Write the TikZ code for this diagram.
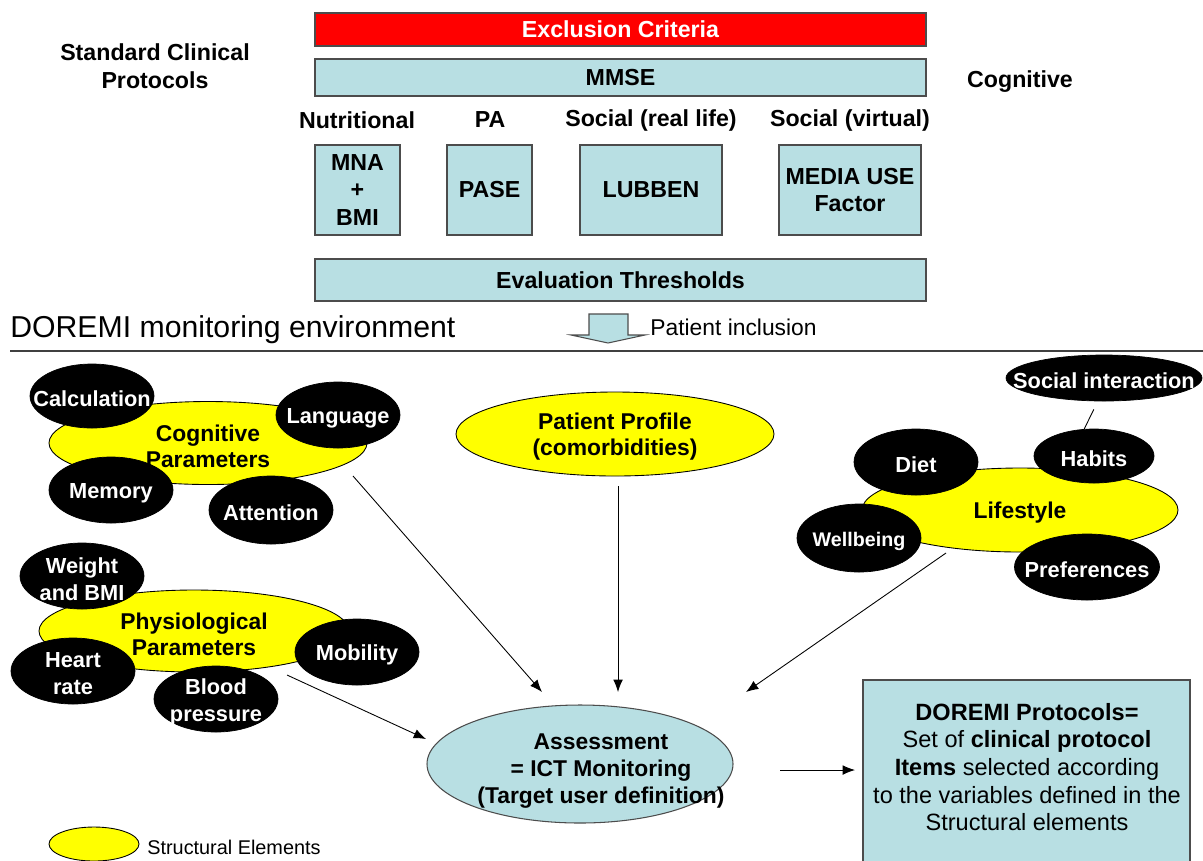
\documentclass[tikz,border=0pt]{standalone}
\usepackage{fontspec}
\setmainfont{Liberation Sans}
\usetikzlibrary{shapes.geometric,arrows.meta}
\definecolor{boxblue}{RGB}{184,223,227}
\definecolor{elyellow}{RGB}{255,255,0}

\begin{document}
\begin{tikzpicture}[x=0.02cm,y=-0.02cm,
  wh/.style 2 args={minimum width=#1*0.02cm,minimum height=#2*0.02cm},
  hdr/.style={font=\fontsize{13.2}{15.7}\selectfont\bfseries,align=center},
  bluebox/.style={draw=black!70,fill=boxblue,line width=0.6pt,inner sep=0pt,hdr},
  struct/.style={ellipse,draw=black,fill=elyellow,line width=0.5pt,inner sep=0pt},
  structtxt/.style={font=\fontsize{13}{14.8}\selectfont\bfseries,align=center,yshift=-0.06cm},
  blob/.style={ellipse,draw=black,fill=black,inner sep=0pt},
  blobtxt/.style={text=white,font=\fontsize{12.4}{15.3}\selectfont\bfseries,align=center,yshift=-0.06cm},
  arr/.style={-{Latex[length=7pt,width=5.5pt]},line width=0.5pt}]

\useasboundingbox (0,0) rectangle (1203,860);

% standard clinical protocols
\node[hdr] (std) at (155,66) {Standard Clinical\\Protocols};
\node[hdr] (cogn) at (1020,82) {Cognitive};

\node[bluebox,wh={611}{33},fill=red,text=white] (excl) at (620.5,29.5) {Exclusion Criteria};
\node[bluebox,wh={611}{37}] (mmse) at (620.5,77.5) {MMSE};

\node[hdr] (nutr) at (357,120) {Nutritional};
\node[hdr] (pa) at (490,120) {PA};
\node[hdr] (socreal) at (651,120) {Social (real life)};
\node[hdr] (socvirt) at (850,120) {Social (virtual)};

\node[bluebox,wh={85}{90}] (mna) at (357.5,190) {MNA\\+\\BMI};
\node[bluebox,wh={85}{90}] (pase) at (489.5,190) {PASE};
\node[bluebox,wh={142}{90}] (lubben) at (651,190) {LUBBEN};
\node[bluebox,wh={142}{90}] (media) at (850,190) {MEDIA USE\\Factor};

\node[bluebox,wh={611}{42}] (thresh) at (620.5,280) {Evaluation Thresholds};

% patient inclusion
\draw[draw=black!70,fill=boxblue,line width=0.6pt]
  (589,314) -- (628,314) -- (628,335) -- (645,335) -- (608,343)
  -- (571,335) -- (589,335) -- cycle;
\node[anchor=west,font=\fontsize{13}{15}\selectfont,inner sep=0pt] (incl) at (650,327) {Patient inclusion};

\node[anchor=west,font=\fontsize{17.2}{20}\selectfont,inner sep=0pt] (env) at (10,330) {DOREMI monitoring environment};
\draw[black!75,line width=1.1pt] (10,351) -- (1203,351);

% structural elements
\node[struct,wh={318}{83},label={[structtxt]center:Cognitive\\Parameters}] (cogpar) at (208,443) {};
\node[struct,wh={310}{82},label={[structtxt]center:Physiological\\Parameters}] (physpar) at (194,631) {};
\node[struct,wh={318}{84},label={[structtxt]center:Patient Profile\\(comorbidities)}] (profile) at (615,434) {};
\node[struct,wh={316}{84},label={[structtxt]center:Lifestyle}] (life) at (1020,510) {};

\node[blob,wh={124}{64},label={[blobtxt]center:Calculation}] (calc) at (92,396) {};
\node[blob,wh={124}{66},label={[blobtxt]center:Language}] (lang) at (338,415) {};
\node[blob,wh={124}{66},label={[blobtxt]center:Memory}] (memory) at (111,490) {};
\node[blob,wh={124}{68},label={[blobtxt]center:Attention}] (attn) at (271,510) {};

\node[blob,wh={124}{66},label={[blobtxt]center:Weight\\and BMI}] (weight) at (82,576) {};
\node[blob,wh={124}{66},label={[blobtxt]center:Heart\\rate}] (heart) at (73,671) {};
\node[blob,wh={124}{66},label={[blobtxt]center:Mobility}] (mobil) at (357,652) {};
\node[blob,wh={124}{66},label={[blobtxt]center:Blood\\pressure}] (blood) at (216,699) {};

\node[blob,wh={196}{46},label={[blobtxt]center:Social interaction}] (socint) at (1104,378) {};
\node[blob,wh={120}{54},label={[blobtxt]center:Habits}] (habits) at (1094,456) {};
\node[blob,wh={124}{66},label={[blobtxt]center:Diet}] (diet) at (916,462) {};
\node[blob,wh={124}{68},label={[blobtxt,font=\fontsize{11.2}{13}\selectfont\bfseries]center:Wellbeing}] (wellb) at (859,538) {};
\node[blob,wh={145}{66},label={[blobtxt]center:Preferences}] (prefs) at (1087,567) {};

\draw[line width=0.5pt,shorten <=0.18cm] (socint.-105) -- (habits.110);

% assessment and protocols
\node[ellipse,draw=black!70,fill=boxblue,line width=0.6pt,inner sep=0pt,wh={306}{118},
  label={[font=\fontsize{13}{15.6}\selectfont\bfseries,align=center,xshift=0.42cm,yshift=-0.14cm]center:Assessment\\= ICT Monitoring\\(Target user definition)}] (assess) at (580,764) {};

\node[draw=black!70,fill=boxblue,line width=0.6pt,inner sep=0pt,wh={327}{190}] (doremi) at (1026.5,775) {};
\node[font=\fontsize{13.4}{15.7}\selectfont,align=center] (doremitxt) at (1027,767)
  {\textbf{DOREMI Protocols=}\\Set of \textbf{clinical protocol}\\\textbf{Items} selected according\\to the variables defined in the\\Structural elements};

\coordinate (cog-a) at (353,476);
\coordinate (ass-a) at (542,692);
\coordinate (pro-a) at (618,486);
\coordinate (ass-b) at (618,692);
\coordinate (life-a) at (946,553);
\coordinate (ass-c) at (746,692);
\coordinate (phys-a) at (287,675);
\coordinate (ass-d) at (426,739);
\coordinate (ass-e) at (780,770);
\coordinate (dor-a) at (855,770);

\draw[arr] (cog-a) -- (ass-a);
\draw[arr] (pro-a) -- (ass-b);
\draw[arr] (life-a) -- (ass-c);
\draw[arr] (phys-a) -- (ass-d);
\draw[arr] (ass-e) -- (dor-a);

% legend
\node[struct,wh={90}{34}] (legend) at (94,844) {};
\node[anchor=west,font=\fontsize{11.3}{13}\selectfont,inner sep=0pt] (legendtxt) at (147,847) {Structural Elements};
\end{tikzpicture}
\end{document}
